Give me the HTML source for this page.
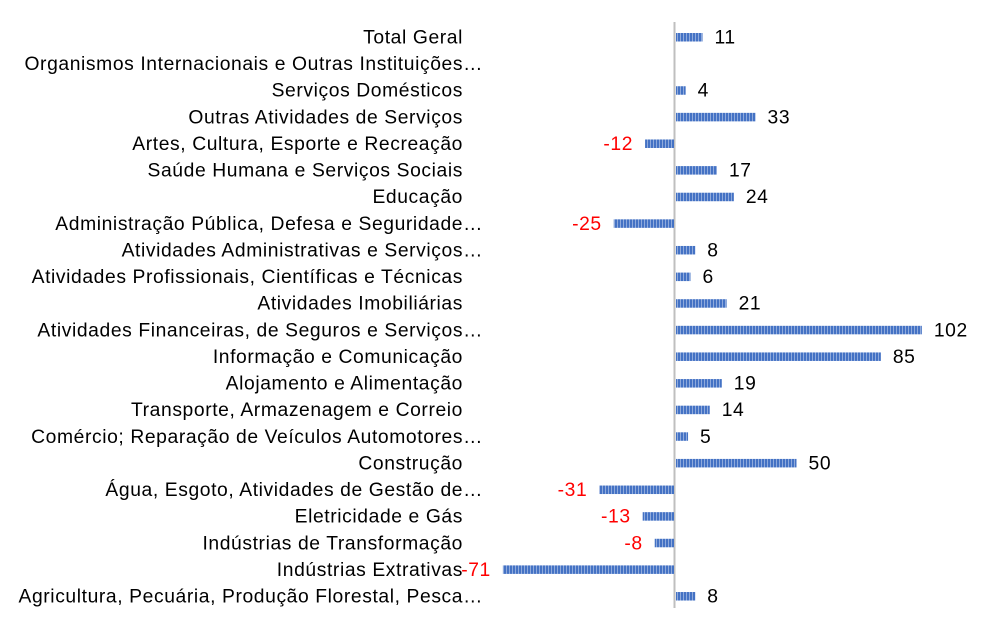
<!DOCTYPE html>
<html><head><meta charset="utf-8"><style>
html,body{margin:0;padding:0;background:#fff;}
svg{display:block;font-family:"Liberation Sans",Arial,sans-serif;}
</style></head><body>
<svg width="987" height="631" viewBox="0 0 987 631" xmlns="http://www.w3.org/2000/svg">
<defs>
<pattern id="st" width="3" height="10" patternUnits="userSpaceOnUse">
<rect width="3" height="10" fill="#4472C4"/><rect x="2" width="1" height="10" fill="#8FAADC"/>
</pattern>
</defs>
<line x1="674.5" y1="22" x2="674.5" y2="608" stroke="#BFBFBF" stroke-width="2"/>
<g font-size="19.3" letter-spacing="0.6" fill="#000" text-anchor="end" id="labels"></g>
<g id="bars"></g>
<script>
var d=[["Total Geral",11,0],["Organismos Internacionais e Outras Instituições…",null,1],["Serviços Domésticos",4,0],["Outras Atividades de Serviços",33,0],["Artes, Cultura, Esporte e Recreação",-12,0],["Saúde Humana e Serviços Sociais",17,0],["Educação",24,0],["Administração Pública, Defesa e Seguridade…",-25,1],["Atividades Administrativas e Serviços…",8,1],["Atividades Profissionais, Científicas e Técnicas",6,0],["Atividades Imobiliárias",21,0],["Atividades Financeiras, de Seguros e Serviços…",102,1],["Informação e Comunicação",85,0],["Alojamento e Alimentação",19,0],["Transporte, Armazenagem e Correio",14,0],["Comércio; Reparação de Veículos Automotores…",5,1],["Construção",50,0],["Água, Esgoto, Atividades de Gestão de…",-31,1],["Eletricidade e Gás",-13,0],["Indústrias de Transformação",-8,0],["Indústrias Extrativas",-71,0],["Agricultura, Pecuária, Produção Florestal, Pesca…",8,1]];
var ns="http://www.w3.org/2000/svg",L=document.getElementById("labels"),B=document.getElementById("bars");
var k=2.41,x0=675;
d.forEach(function(r,i){
 var y=37+i*26.62;
 var t=document.createElementNS(ns,"text");t.setAttribute("x",r[2]?483:463);t.setAttribute("y",y+6.5);t.textContent=r[0];L.appendChild(t);
 if(r[1]===null)return;
 var v=r[1],w=Math.abs(v)*k,rc=document.createElementNS(ns,"rect");
 rc.setAttribute("x",v>=0?x0+1:x0-1-w);rc.setAttribute("y",y-4);rc.setAttribute("width",w);rc.setAttribute("height",8.5);rc.setAttribute("fill","url(#st)");B.appendChild(rc);
 var vt=document.createElementNS(ns,"text");vt.setAttribute("font-size","19.3");vt.setAttribute("letter-spacing","0.6");vt.setAttribute("y",y+6.5);
 if(v>=0){vt.setAttribute("x",x0+1+w+12);vt.setAttribute("fill","#000");}
 else{vt.setAttribute("x",x0-1-w-12);vt.setAttribute("text-anchor","end");vt.setAttribute("fill","#FF0000");}
 vt.textContent=v;B.appendChild(vt);
});
</script>
</svg>
</body></html>
